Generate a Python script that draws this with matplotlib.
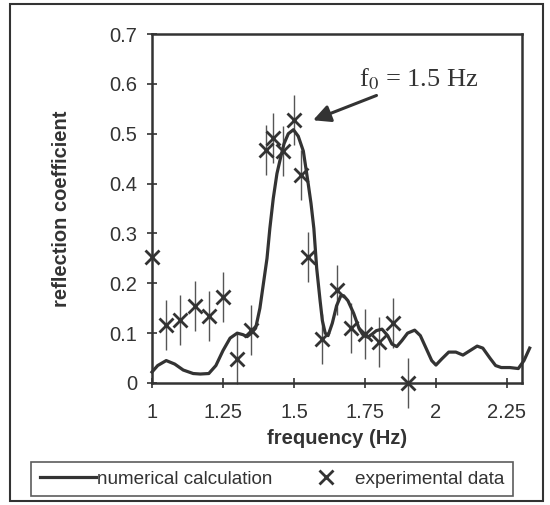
import matplotlib
matplotlib.use('Agg')
import matplotlib.pyplot as plt
from matplotlib.patches import Rectangle
from matplotlib.lines import Line2D

# numerical calculation
calc_freq = [1.00, 1.02, 1.05, 1.08, 1.11, 1.145, 1.17, 1.20, 1.225, 1.25, 1.275,
             1.30, 1.32, 1.335, 1.35, 1.365, 1.38, 1.395, 1.405, 1.415, 1.427,
             1.44, 1.452, 1.465, 1.48, 1.498, 1.515, 1.533, 1.55, 1.56, 1.57,
             1.58, 1.592, 1.60, 1.61, 1.62, 1.635, 1.65, 1.665, 1.675, 1.69,
             1.71, 1.73, 1.745, 1.76, 1.775, 1.79, 1.81, 1.83, 1.845, 1.862,
             1.88, 1.90, 1.925, 1.945, 1.965, 1.985, 2.00, 2.02, 2.045, 2.07,
             2.095, 2.12, 2.145, 2.165, 2.19, 2.21, 2.23, 2.26, 2.29, 2.31, 2.33]
calc_refl = [0.022, 0.035, 0.045, 0.038, 0.026, 0.019, 0.018, 0.019, 0.035, 0.065, 0.090,
             0.100, 0.097, 0.093, 0.100, 0.110, 0.150, 0.210, 0.250, 0.310, 0.370,
             0.420, 0.450, 0.480, 0.500, 0.508, 0.495, 0.465, 0.400, 0.360, 0.310,
             0.230, 0.165, 0.125, 0.100, 0.095, 0.120, 0.155, 0.175, 0.175, 0.165,
             0.140, 0.108, 0.095, 0.092, 0.098, 0.105, 0.108, 0.095, 0.078, 0.073,
             0.085, 0.100, 0.106, 0.095, 0.070, 0.045, 0.036, 0.048, 0.062, 0.062,
             0.056, 0.065, 0.074, 0.070, 0.050, 0.035, 0.031, 0.031, 0.029, 0.045, 0.070]

# experimental data
exp_freq = [1.00, 1.05, 1.10, 1.15, 1.20, 1.25, 1.30, 1.35, 1.40, 1.425, 1.46,
            1.50, 1.525, 1.55, 1.60, 1.65, 1.70, 1.75, 1.80, 1.85, 1.90]
exp_refl = [0.253, 0.117, 0.126, 0.154, 0.134, 0.173, 0.048, 0.106, 0.467, 0.491, 0.465,
            0.527, 0.417, 0.253, 0.088, 0.187, 0.111, 0.098, 0.083, 0.121, 0.0]
exp_err = [0.0, 0.05, 0.05, 0.05, 0.05, 0.05, 0.05, 0.05, 0.05, 0.05, 0.05,
           0.05, 0.05, 0.05, 0.05, 0.05, 0.05, 0.05, 0.05, 0.05, 0.05]

x_ticks = [1, 1.25, 1.5, 1.75, 2, 2.25]
x_tick_labels = ['1', '1.25', '1.5', '1.75', '2', '2.25']
y_ticks = [0, 0.1, 0.2, 0.3, 0.4, 0.5, 0.6, 0.7]
y_tick_labels = ['0', '0.1', '0.2', '0.3', '0.4', '0.5', '0.6', '0.7']

ink = '#333333'
plt.rcParams['font.family'] = ['Liberation Sans', 'DejaVu Sans']
plt.rcParams['mathtext.fontset'] = 'stix'

fig = plt.figure(figsize=(5.5, 5.05), dpi=100)
ax = fig.add_axes([152 / 550, 1 - 383 / 505, 370 / 550, 349 / 505])

ax.plot(calc_freq, calc_refl, color=ink, linewidth=2.3, clip_on=False, zorder=3)
ax.errorbar(exp_freq, exp_refl, yerr=exp_err, fmt='none', ecolor='#555555',
            elinewidth=1.0, capsize=0, clip_on=False, zorder=2)
ax.plot(exp_freq, exp_refl, linestyle='none', marker='x', markersize=10.5,
        markeredgewidth=2.0, color=ink, clip_on=False, zorder=4)

ax.set_xlim(1, 2.303)
ax.set_ylim(0, 0.7)
ax.set_xticks(x_ticks)
ax.set_xticklabels(x_tick_labels)
ax.set_yticks(y_ticks)
ax.set_yticklabels(y_tick_labels)
ax.tick_params(direction='inout', length=7, width=1.2, colors=ink, labelsize=14.5)
ax.tick_params(axis='x', pad=11)
ax.tick_params(axis='y', pad=7)
for s in ax.spines.values():
    s.set_linewidth(1.8)
    s.set_color(ink)

ax.set_xlabel('frequency (Hz)', fontsize=14.5, fontweight='bold', color=ink, labelpad=5)
ax.set_ylabel('reflection coefficient', fontsize=14.5, fontweight='bold', color=ink, labelpad=28)

ax.annotate('f$_0$ = 1.5 Hz', xy=(1.567, 0.527), xytext=(1.73, 0.61),
            fontsize=19, family='Liberation Serif', color=ink, va='center',
            arrowprops=dict(arrowstyle='-|>', color=ink, lw=2.2, mutation_scale=26,
                            shrinkA=2, shrinkB=0))

# legend
handles = [Line2D([], [], color=ink, linewidth=2.3),
           Line2D([], [], linestyle='none', marker='x', markersize=10,
                  markeredgewidth=2.0, color=ink)]
leg = fig.legend(handles, ['numerical calculation', 'experimental data'],
                 loc='center', bbox_to_anchor=(272 / 550, 1 - 479 / 505), ncol=2,
                 fontsize=13.6, frameon=True, fancybox=False, edgecolor=ink,
                 handlelength=3.0, handletextpad=0.05, columnspacing=1.3,
                 borderpad=0.45, borderaxespad=0, labelcolor=ink)
leg.get_frame().set_linewidth(1.2)

# outer frame
fig.patches.append(Rectangle((10 / 550, 4 / 505), 533 / 550, 497 / 505,
                             transform=fig.transFigure, fill=False,
                             edgecolor=ink, linewidth=1.5))

fig.savefig('out.png', dpi=100)
